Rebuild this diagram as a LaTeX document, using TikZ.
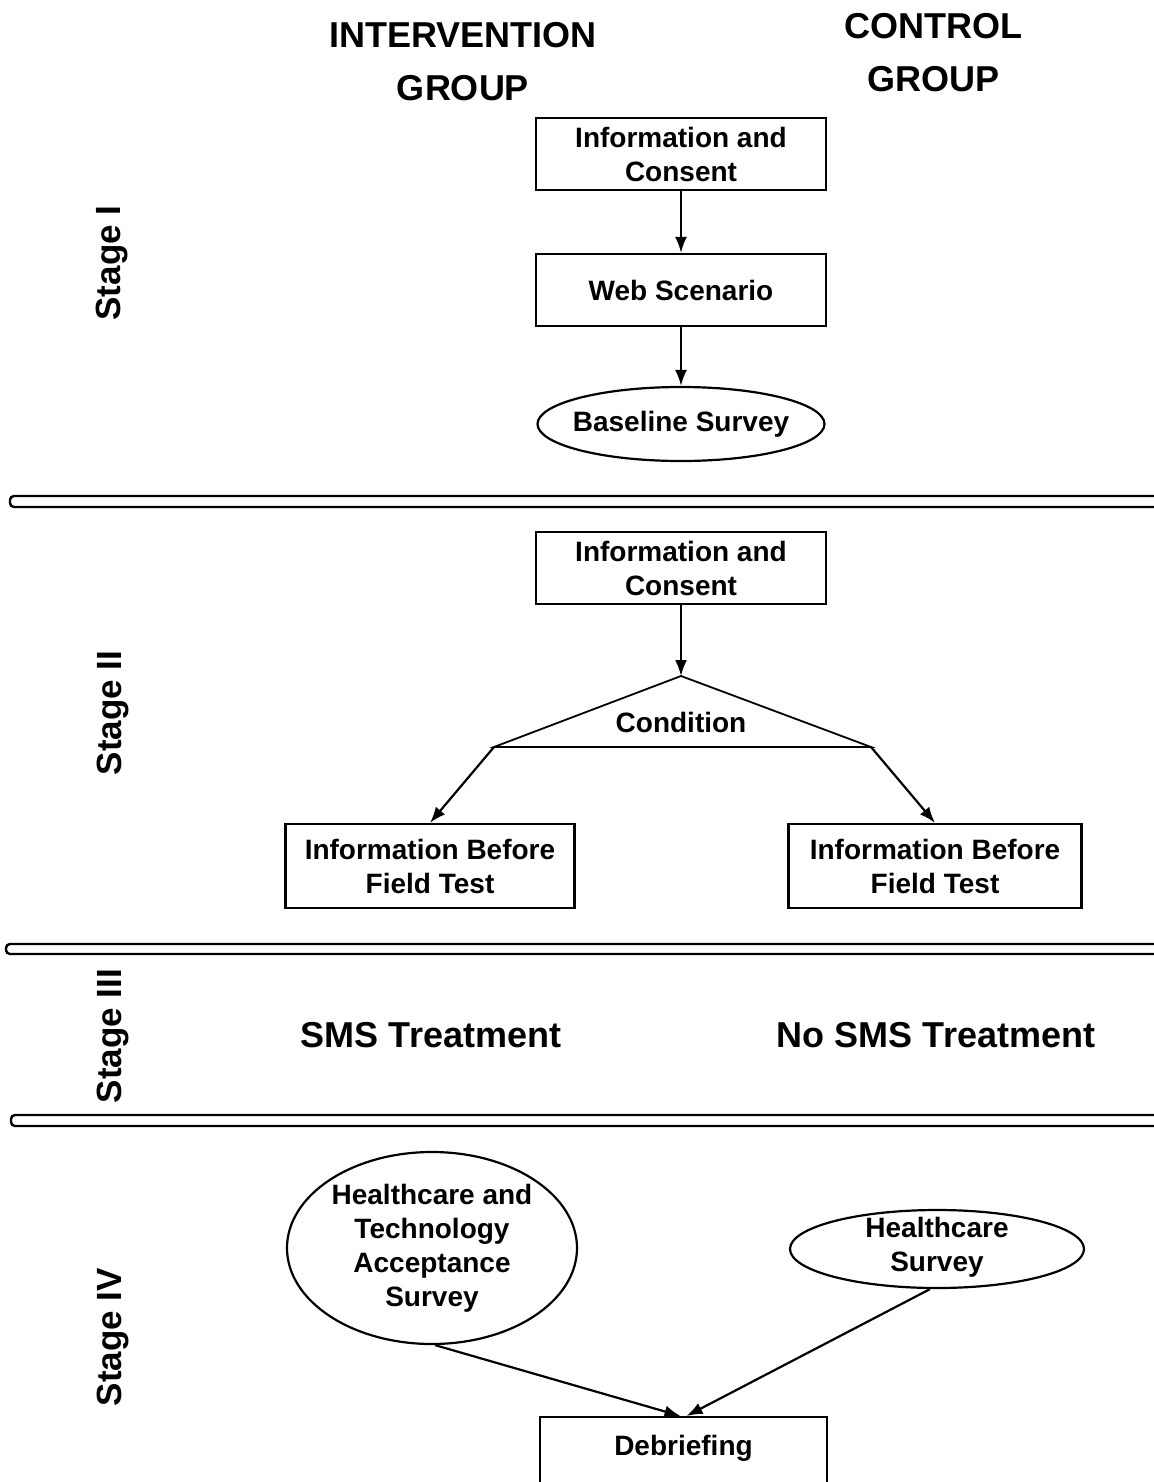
\documentclass[tikz,border=0pt]{standalone}
\usepackage{fontspec}
\setmainfont{Liberation Sans}
\usetikzlibrary{shapes.geometric,arrows.meta}
\begin{document}
\begin{tikzpicture}[x=1pt,y=-1pt,
  txt/.style={inner sep=0pt, align=center, font=\bfseries\fontsize{28}{34}\selectfont},
  big/.style={inner sep=0pt, align=center, font=\bfseries\fontsize{36}{53}\selectfont},
  stagelbl/.style={inner sep=0pt, rotate=90, font=\bfseries\fontsize{35}{42}\selectfont},
  box/.style={txt, draw, line width=2.2pt, minimum width=290pt, minimum height=72pt},
  oval/.style={draw, ellipse, line width=2.2pt, inner sep=0pt},
  conn/.style={line width=2.2pt, -{Latex[length=16pt,width=12pt]}},
  sep/.style={line width=2.4pt, rounded corners=4pt},
  tri/.style={line width=1.8pt, line join=miter}]
\useasboundingbox (0,0) rectangle (1153,1482);

% column headings
\node[big] (hint) at (463,62) {INTERVENTION\\GROUP};
\node[big] (hctl) at (933,53) {CONTROL\\GROUP};

% stage labels
\node[stagelbl] (s1) at (112,263) {Stage I};
\node[stagelbl] (s2) at (113,713) {Stage II};
\node[stagelbl] (s3) at (113,1036) {Stage III};
\node[stagelbl] (s4) at (113,1337) {Stage IV};

% stage separators
\draw[sep] (1170,496) -- (10,496) -- (10,507) -- (1170,507);
\draw[sep] (1170,944) -- (6,944) -- (6,954) -- (1170,954);
\draw[sep] (1170,1115) -- (11,1115) -- (11,1126) -- (1170,1126);

% Stage I
\node[box] (ic1) at (681,154) {Information and\\Consent};
\node[box] (web) at (681,290) {Web Scenario};
\node[oval, minimum width=287pt, minimum height=74pt] (base) at (681,424) {};
\node[txt] (baset) at (base) {Baseline Survey};
\draw[conn] (ic1) -- (web);
\draw[conn] (web) -- (base);

% Stage II
\node[box] (ic2) at (681,568) {Information and\\Consent};
\coordinate (apex) at (681,676);
\coordinate (cl) at (494,747);
\coordinate (cr) at (871,747);
\draw[tri] (cl) -- (apex) -- (cr) -- cycle;
\node[txt] (cond) at (681,722) {Condition};
\draw[conn] (ic2) -- (apex);
\node[box, minimum width=289pt, minimum height=84pt] (ibl) at (430,866) {Information Before\\Field Test};
\node[box, minimum width=293pt, minimum height=84pt] (ibr) at (935,866) {Information Before\\Field Test};
\draw[conn] (cl) -- (ibl.north);
\draw[conn] (cr) -- (ibr.north);

% Stage III
\node[big] (sms) at (431,1035) {SMS Treatment};
\node[big] (nosms) at (936,1035) {No SMS Treatment};

% Stage IV
\node[oval, minimum width=290pt, minimum height=192pt] (hta) at (432,1248) {};
\node[txt] (htat) at (hta) {Healthcare and\\Technology\\Acceptance\\Survey};
\node[oval, minimum width=294pt, minimum height=78pt] (hs) at (937,1249) {};
\node[txt] (hst) at (937,1247) {Healthcare\\Survey};
\node[draw, line width=2.2pt, minimum width=287pt, minimum height=90pt, anchor=north, inner sep=0pt] (deb) at (683.5,1416) {};
\node[txt] (debt) at (683.5,1448) {Debriefing};
\draw[conn] ([xshift=3pt]hta.south) -- ([xshift=-3pt]deb.north);
\draw[conn] ([xshift=-7pt]hs.south) -- ([xshift=3pt]deb.north);
\end{tikzpicture}
\end{document}
